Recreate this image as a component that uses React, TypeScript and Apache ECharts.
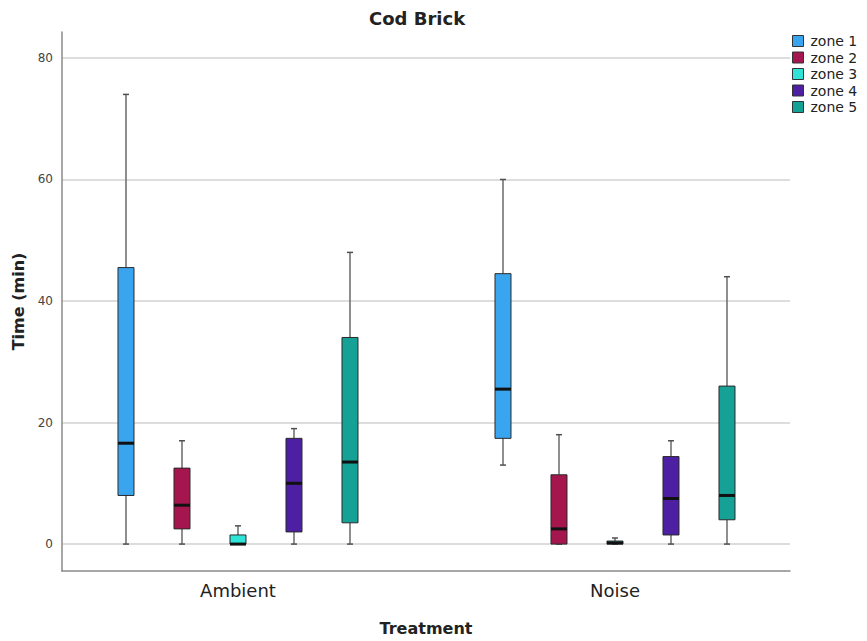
import React, { useEffect, useRef } from 'react';
import * as echarts from 'echarts';

const categories = ['Ambient', 'Noise'];
const zoneNames = ['zone 1', 'zone 2', 'zone 3', 'zone 4', 'zone 5'];
const zoneColors = ['#3aa5ef', '#a5164e', '#2fe3d6', '#4c1fa3', '#15a196'];

// [min, Q1, median, Q3, max] per treatment (Ambient, Noise)
const zone1 = [[0, 8, 16.6, 45.5, 74], [13, 17.4, 25.5, 44.5, 60]];
const zone2 = [[0, 2.5, 6.4, 12.5, 17], [0, 0, 2.5, 11.4, 18]];
const zone3 = [[0, 0, 0, 1.5, 3], [0, 0, 0.2, 0.5, 1]];
const zone4 = [[0, 2, 10, 17.4, 19], [0, 1.5, 7.5, 14.4, 17]];
const zone5 = [[0, 3.5, 13.5, 34, 48], [0, 4, 8, 26, 44]];
const zoneStats = [zone1, zone2, zone3, zone4, zone5];

const yTicks = [0, 20, 40, 60, 80];
const xTicks = [0, 1];

const FONT = '"DejaVu Sans", Verdana, sans-serif';

export default function App() {
  const ref = useRef<HTMLDivElement>(null);

  useEffect(() => {
    const chart = echarts.init(ref.current!, null, { renderer: 'svg' });
    const BOX_SPACING = 56;
    const BOX_HALF = 8;
    const CAP_HALF = 3;

    const series = zoneNames.map((name, zi) => ({
      type: 'custom',
      name,
      itemStyle: { color: zoneColors[zi] },
      encode: { x: 0, y: [1, 2, 3, 4, 5] },
      data: zoneStats[zi].map((s, ci) => [ci, ...s]),
      renderItem: (params: any, api: any) => {
        const ci = api.value(0);
        const pts = [1, 2, 3, 4, 5].map((d) => api.coord([ci, api.value(d)]));
        const cx = pts[0][0] + (zi - 2) * BOX_SPACING;
        const [yMin, yQ1, yMed, yQ3, yMax] = pts.map((p: number[]) => p[1]);
        const whisker = { stroke: '#6a6a6a', lineWidth: 1.5 };
        const cap = { stroke: '#505050', lineWidth: 1.5 };
        return {
          type: 'group',
          children: [
            { type: 'line', shape: { x1: cx, y1: yQ3, x2: cx, y2: yMax }, style: whisker },
            { type: 'line', shape: { x1: cx, y1: yQ1, x2: cx, y2: yMin }, style: whisker },
            { type: 'line', shape: { x1: cx - CAP_HALF, y1: yMax, x2: cx + CAP_HALF, y2: yMax }, style: cap },
            { type: 'line', shape: { x1: cx - CAP_HALF, y1: yMin, x2: cx + CAP_HALF, y2: yMin }, style: cap },
            {
              type: 'rect',
              shape: { x: cx - BOX_HALF, y: yQ3, width: BOX_HALF * 2, height: Math.max(yQ1 - yQ3, 1) },
              style: { fill: zoneColors[zi], stroke: '#2a2a2a', lineWidth: 1 },
            },
            {
              type: 'line',
              shape: { x1: cx - BOX_HALF, y1: yMed, x2: cx + BOX_HALF, y2: yMed },
              style: { stroke: '#111', lineWidth: 3 },
            },
          ],
        };
      },
    }));

    chart.setOption({
      animation: false,
      backgroundColor: '#ffffff',
      title: {
        text: 'Cod Brick',
        left: 364,
        top: 4,
        textStyle: { fontFamily: FONT, fontSize: 18, fontWeight: 'bold', color: '#222' },
      },
      legend: {
        data: zoneNames,
        orient: 'vertical',
        left: 792,
        top: 34,
        padding: 0,
        icon: 'rect',
        itemWidth: 11,
        itemHeight: 11,
        itemGap: 2.5,
        itemStyle: { borderColor: '#333', borderWidth: 1 },
        textStyle: { fontFamily: FONT, fontSize: 14, lineHeight: 14, color: '#222', padding: [0, 0, 0, 2] },
      },
      grid: { left: 62, right: 77, top: 32, bottom: 69, containLabel: false },
      xAxis: {
        type: 'value',
        min: -0.4668,
        max: 1.4642,
        name: 'Treatment',
        nameLocation: 'middle',
        nameGap: 49,
        nameTextStyle: { fontFamily: FONT, fontSize: 16, fontWeight: 'bold', color: '#222' },
        axisLine: { onZero: false, lineStyle: { color: '#8a8a8a', width: 1.5 } },
        axisTick: { show: false, customValues: xTicks },
        splitLine: { show: false },
        axisLabel: {
          customValues: xTicks,
          formatter: (v: number) => categories[Math.round(v)] ?? '',
          fontFamily: FONT,
          fontSize: 18,
          color: '#222',
          margin: 10,
        },
      },
      yAxis: {
        type: 'value',
        min: -4.43,
        max: 84.27,
        name: 'Time (min)',
        nameLocation: 'middle',
        nameGap: 34,
        nameTextStyle: { fontFamily: FONT, fontSize: 16, fontWeight: 'bold', color: '#222' },
        axisLine: { show: true, onZero: false, lineStyle: { color: '#8a8a8a', width: 1.5 } },
        axisTick: { show: false, customValues: yTicks },
        splitLine: { show: true, lineStyle: { color: '#d2d2d2', width: 1.5 } },
        axisLabel: {
          customValues: yTicks,
          fontFamily: FONT,
          fontSize: 12,
          color: '#444',
          margin: 9,
        },
      },
      series,
    });

    return () => chart.dispose();
  }, []);

  return (
    <div
      ref={ref}
      style={{ position: 'fixed', left: 0, top: 0, width: 867, height: 641, background: '#fff' }}
    />
  );
}
